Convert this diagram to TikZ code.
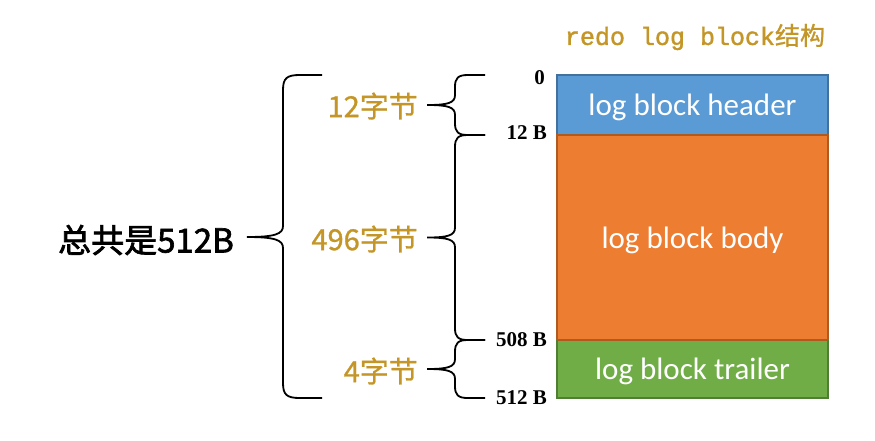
\documentclass[tikz,border=0pt]{standalone}
\usepackage{fontspec}
\setmainfont{Liberation Serif}
\newfontfamily\cjk[FakeBold=1]{Noto Sans CJK SC}
\newfontfamily\cjkm[FakeBold=2]{Noto Sans CJK SC}
\newfontfamily\carl{Carlito}
\newfontfamily\mono[FakeBold=1.5]{Liberation Mono}
\definecolor{gold}{RGB}{196,150,40}
\definecolor{hblue}{RGB}{91,155,213}
\definecolor{hblueb}{RGB}{65,113,156}
\definecolor{borange}{RGB}{237,125,49}
\definecolor{boranged}{RGB}{174,90,33}
\definecolor{tgreen}{RGB}{112,173,71}
\definecolor{tgreend}{RGB}{80,126,50}
\tikzset{
  blktxt/.style={text=white, font=\carl\fontsize{31}{34}\selectfont},
  off/.style={font=\bfseries\fontsize{21}{22}\selectfont, anchor=east, inner sep=0pt},
  lbl/.style={font=\cjk\fontsize{29}{31}\selectfont, text=gold, anchor=east, inner sep=0pt},
  brc/.style={line width=1.8pt, black}
}
\begin{document}
\begin{tikzpicture}[x=1pt,y=-1pt]
\useasboundingbox (0,0) rectangle (875,440);
% title
\node[font=\fontsize{25}{27}\selectfont, text=gold] (title) at (695,37) {\mono redo log block\cjk 结构};
% blocks
\path[fill=hblue] (557,75) rectangle (828,135);
\path[fill=borange] (557,135) rectangle (828,340);
\path[fill=tgreen] (557,340) rectangle (828,398);
\draw[hblueb, line width=1.5pt] (557,135) -- (557,75) -- (828,75) -- (828,135);
\draw[boranged, line width=1.5pt] (557,135) -- (828,135) -- (828,340) -- (557,340) -- cycle;
\draw[tgreend, line width=1.5pt] (557,340) -- (557,398) -- (828,398) -- (828,340);
\node[blktxt] (hdr) at (692.5,107) {log block header};
\node[blktxt] (body) at (692.5,240) {log block body};
\node[blktxt] (trl) at (692.5,371) {log block trailer};
% offsets
\node[off] (o0) at (545,78) {0};
\node[off] (o12) at (547,133) {12 B};
\node[off] (o508) at (547,340) {508 B};
\node[off] (o512) at (547,398) {512 B};
% small braces
\foreach \t/\b in {75/135, 135/340, 340/398}{
  \pgfmathsetmacro{\m}{(\t+\b)/2}
  \draw[brc] (485,\t) -- (468,\t) .. controls (458,\t) and (455,\t+3) .. (455,\t+12)
    -- (455,\m-10) .. controls (455,\m-2) and (448,\m) .. (427,\m)
    .. controls (448,\m) and (455,\m+2) .. (455,\m+10)
    -- (455,\b-12) .. controls (455,\b-3) and (458,\b) .. (468,\b) -- (485,\b);
}
% big brace
\draw[brc] (322,75) -- (300,75) .. controls (287,75) and (283,78) .. (283,90)
  -- (283,226) .. controls (283,234) and (275,237) .. (247,237)
  .. controls (275,237) and (283,240) .. (283,248)
  -- (283,383) .. controls (283,395) and (287,398) .. (300,398) -- (322,398);
% labels
\node[lbl] (l12) at (418,106) {12字节};
\node[lbl] (l496) at (418,239) {496字节};
\node[lbl] (l4) at (418,371) {4字节};
\node[font=\cjkm\fontsize{33}{36}\selectfont, anchor=east, inner sep=0pt] (tot) at (234,240) {总共是512B};
\end{tikzpicture}
\end{document}
